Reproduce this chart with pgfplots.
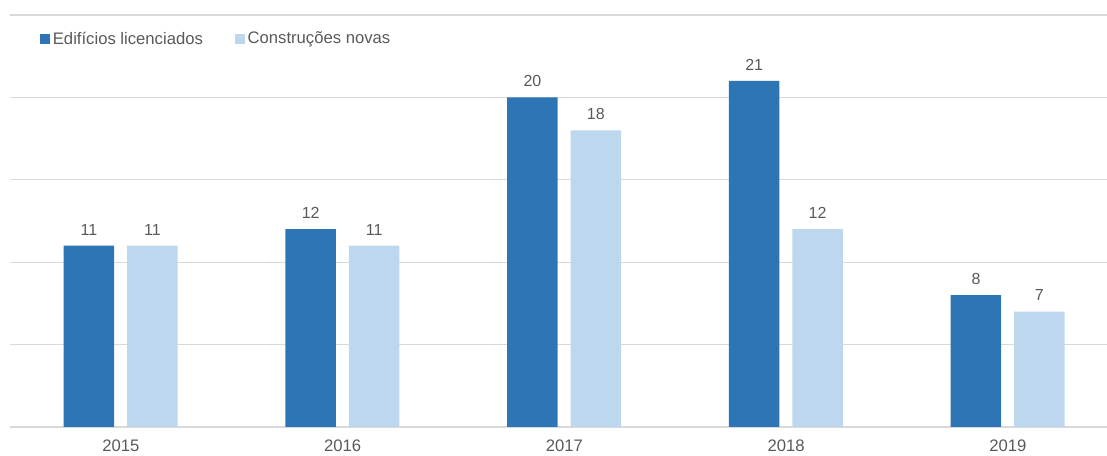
\documentclass[border=0pt]{standalone}
\usepackage{pgfplots}
\pgfplotsset{compat=1.18}
\usepackage{fontspec}
\setmainfont{Liberation Sans}
\definecolor{darkb}{HTML}{2E75B6}
\definecolor{lightb}{HTML}{BDD7EE}
\definecolor{txt}{HTML}{595959}
\definecolor{grd}{HTML}{D9D9D9}
\begin{document}
\begin{tikzpicture}[x=0.75pt,y=0.75pt]
\useasboundingbox (-10,-29) rectangle (1097,427);
\begin{axis}[
  at={(0,0)}, anchor=south west,
  scale only axis,
  width=822.75pt, height=309pt,
  xmin=-0.5, xmax=4.447,
  ymin=0, ymax=25,
  ytick={0,5,10,15,20,25},
  yticklabels={},
  ymajorgrids,
  grid style={grd, line width=0.8pt},
  axis line style={draw=none},
  major tick length=0pt,
  xtick={0,1,2,3,4},
  xticklabels={2015,2016,2017,2018,2019},
  xticklabel style={font=\fontsize{12.5}{15}\selectfont, text=txt, yshift=-6pt},
  /pgf/number format/assume math mode=true,
  ybar,
  bar width=0.228,
  clip=false,
  nodes near coords,
  every node near coord/.append style={font=\fontsize{12}{14}\selectfont, text=txt, yshift=4.5pt},
  legend style={at={(0.0273,0.942)}, anchor=west, draw=none, fill=none,
    font=\fontsize{12.5}{15}\selectfont, text=txt, legend columns=2,
    /tikz/every even column/.append style={column sep=22pt},
    inner sep=0pt},
  legend image code/.code={\fill[#1] (0pt,-3.75pt) rectangle (7.5pt,3.75pt);},
]
\addplot[draw=none, fill=darkb, bar shift=-0.144] coordinates {(0,11) (1,12) (2,20) (3,21) (4,8)};
\addplot[draw=none, fill=lightb, bar shift=0.142] coordinates {(0,11) (1,11) (2,18) (3,12) (4,7)};
\legend{Edifícios licenciados, Construções novas}
\end{axis}
\end{tikzpicture}
\end{document}
